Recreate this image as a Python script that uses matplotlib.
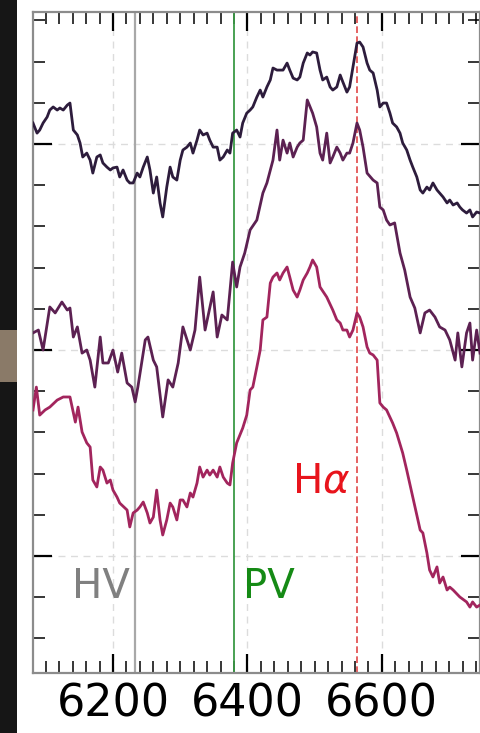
import numpy as np
import matplotlib.pyplot as plt
from matplotlib.ticker import MultipleLocator
from matplotlib.patches import Rectangle

# top spectrum (wavelength in A, offset flux)
wave_top = [6081, 6087, 6091, 6096, 6102, 6106, 6111, 6117, 6121, 6126, 6132, 6136,
            6141, 6147, 6151, 6155, 6161, 6166, 6170, 6176, 6181, 6185, 6191, 6196,
            6200, 6206, 6210, 6215, 6221, 6225, 6230, 6236, 6240, 6245, 6251, 6255,
            6260, 6265, 6270, 6274, 6280, 6285, 6289, 6295, 6300, 6304, 6310, 6315,
            6319, 6325, 6329, 6334, 6340, 6344, 6349, 6355, 6359, 6364, 6370, 6374,
            6378, 6384, 6389, 6393, 6399, 6404, 6408, 6414, 6419, 6423, 6429, 6434,
            6438, 6444, 6448, 6453, 6459, 6463, 6468, 6474, 6478, 6483, 6489, 6493,
            6497, 6503, 6508, 6512, 6518, 6523, 6527, 6533, 6538, 6542, 6548, 6552,
            6557, 6563, 6567, 6572, 6578, 6582, 6587, 6593, 6597, 6602, 6607, 6612,
            6616, 6622, 6627, 6631, 6637, 6642, 6646, 6652, 6657, 6661, 6667, 6671,
            6676, 6682, 6686, 6691, 6697, 6701, 6706, 6712, 6716, 6720, 6726, 6731,
            6735, 6741, 6746]
flux_top = [2.102, 2.053, 2.068, 2.102, 2.131, 2.165, 2.180, 2.165, 2.175, 2.165, 2.189, 2.199,
            2.068, 2.044, 2.005, 1.937, 1.956, 1.922, 1.859, 1.937, 1.947, 1.908, 1.888, 1.874,
            1.884, 1.888, 1.840, 1.874, 1.825, 1.811, 1.811, 1.859, 1.840, 1.888, 1.937, 1.874,
            1.762, 1.840, 1.714, 1.646, 1.791, 1.888, 1.840, 1.825, 1.922, 1.971, 1.985, 2.005,
            1.956, 2.019, 2.068, 2.044, 2.053, 2.019, 1.985, 1.985, 1.922, 1.937, 1.971, 1.956,
            2.053, 2.068, 2.034, 2.102, 2.150, 2.165, 2.180, 2.228, 2.262, 2.228, 2.277, 2.311,
            2.369, 2.359, 2.359, 2.359, 2.393, 2.359, 2.320, 2.311, 2.325, 2.393, 2.442, 2.432,
            2.447, 2.442, 2.359, 2.311, 2.325, 2.277, 2.262, 2.277, 2.335, 2.301, 2.252, 2.277,
            2.374, 2.490, 2.495, 2.471, 2.393, 2.359, 2.345, 2.262, 2.180, 2.199, 2.199, 2.150,
            2.102, 2.083, 2.053, 2.005, 1.971, 1.922, 1.888, 1.840, 1.777, 1.762, 1.791, 1.777,
            1.811, 1.777, 1.762, 1.743, 1.714, 1.728, 1.704, 1.714, 1.694, 1.680, 1.665, 1.680,
            1.646, 1.670, 1.665]

# middle spectrum
wave_mid = [6081, 6089, 6096, 6106, 6114, 6124, 6132, 6136, 6141, 6147, 6154, 6161,
            6166, 6173, 6181, 6185, 6193, 6200, 6207, 6213, 6221, 6228, 6233, 6237,
            6248, 6252, 6260, 6265, 6274, 6282, 6289, 6297, 6304, 6315, 6322, 6329,
            6337, 6349, 6355, 6362, 6370, 6378, 6384, 6389, 6396, 6404, 6414, 6423,
            6429, 6438, 6444, 6448, 6453, 6459, 6463, 6468, 6474, 6478, 6483, 6489,
            6497, 6503, 6508, 6512, 6518, 6523, 6527, 6533, 6538, 6542, 6548, 6552,
            6557, 6563, 6567, 6572, 6578, 6587, 6593, 6597, 6602, 6607, 6612, 6619,
            6627, 6634, 6642, 6649, 6657, 6664, 6671, 6679, 6686, 6694, 6701, 6709,
            6713, 6719, 6726, 6731, 6735, 6741, 6746]
flux_mid = [1.083, 1.097, 1.000, 1.209, 1.180, 1.233, 1.194, 1.204, 1.063, 1.112, 0.985, 1.000,
            0.951, 0.820, 1.063, 0.937, 0.937, 1.000, 0.893, 0.985, 0.840, 0.820, 0.748, 0.820,
            1.049, 1.063, 0.951, 0.918, 0.675, 0.855, 0.820, 0.937, 1.112, 1.000, 1.097, 1.354,
            1.097, 1.282, 1.063, 1.170, 1.146, 1.427, 1.306, 1.403, 1.471, 1.583, 1.631, 1.762,
            1.811, 1.922, 2.068, 1.922, 2.019, 1.956, 2.005, 1.937, 1.985, 2.005, 2.019, 2.214,
            2.150, 2.083, 1.956, 1.922, 2.053, 1.908, 1.937, 1.985, 1.956, 1.922, 1.956, 1.956,
            2.005, 2.102, 2.068, 1.985, 1.859, 1.825, 1.811, 1.694, 1.680, 1.631, 1.607, 1.617,
            1.471, 1.388, 1.257, 1.204, 1.083, 1.180, 1.194, 1.160, 1.112, 1.097, 1.049, 0.951,
            1.083, 0.918, 1.083, 1.131, 0.951, 1.097, 0.985]

# bottom spectrum
wave_bot = [6081, 6086, 6091, 6099, 6106, 6117, 6126, 6136, 6144, 6148, 6154, 6161,
            6166, 6170, 6176, 6181, 6185, 6191, 6196, 6200, 6206, 6210, 6221, 6225,
            6230, 6236, 6240, 6245, 6251, 6255, 6260, 6265, 6270, 6274, 6280, 6285,
            6289, 6295, 6300, 6304, 6310, 6315, 6319, 6325, 6329, 6334, 6340, 6344,
            6349, 6355, 6359, 6364, 6370, 6374, 6378, 6384, 6393, 6399, 6404, 6408,
            6414, 6419, 6423, 6429, 6434, 6438, 6444, 6448, 6453, 6459, 6463, 6468,
            6474, 6478, 6483, 6489, 6493, 6497, 6503, 6508, 6518, 6527, 6533, 6538,
            6542, 6548, 6552, 6557, 6563, 6567, 6572, 6578, 6582, 6587, 6593, 6597,
            6602, 6607, 6616, 6622, 6631, 6637, 6646, 6657, 6661, 6667, 6671, 6676,
            6682, 6686, 6691, 6697, 6701, 6706, 6716, 6726, 6731, 6735, 6741, 6746]
flux_bot = [0.709, 0.820, 0.684, 0.709, 0.723, 0.757, 0.772, 0.772, 0.650, 0.723, 0.602, 0.549,
            0.529, 0.369, 0.335, 0.432, 0.417, 0.354, 0.369, 0.320, 0.286, 0.257, 0.223, 0.141,
            0.209, 0.223, 0.238, 0.262, 0.209, 0.160, 0.189, 0.320, 0.175, 0.102, 0.175, 0.257,
            0.238, 0.175, 0.272, 0.272, 0.238, 0.306, 0.286, 0.354, 0.432, 0.383, 0.417, 0.393,
            0.417, 0.383, 0.432, 0.383, 0.354, 0.345, 0.451, 0.549, 0.621, 0.684, 0.806, 0.820,
            0.917, 1.000, 1.146, 1.160, 1.325, 1.354, 1.374, 1.340, 1.374, 1.403, 1.354, 1.291,
            1.257, 1.291, 1.340, 1.374, 1.403, 1.437, 1.403, 1.306, 1.257, 1.194, 1.146, 1.131,
            1.097, 1.097, 1.063, 1.097, 1.180, 1.160, 1.112, 1.015, 0.985, 0.976, 0.951, 0.743,
            0.723, 0.709, 0.646, 0.597, 0.500, 0.417, 0.286, 0.126, 0.112, 0.015, -0.068, -0.102,
            -0.053, -0.131, -0.102, -0.165, -0.151, -0.165, -0.199, -0.223, -0.248, -0.223, -0.248, -0.238]

# line markers
hv_wave = 6233
pv_wave = 6380
ha_wave = 6563

fig = plt.figure(figsize=(4.81, 7.33), dpi=100)
fig.patch.set_facecolor('white')
# dark screen strip on the left edge
fig.patches.append(Rectangle((0, 0), 17 / 481, 1, transform=fig.transFigure,
                             facecolor='#161616', edgecolor='none', zorder=0))
fig.patches.append(Rectangle((0, 0.479), 17 / 481, 0.071, transform=fig.transFigure,
                             facecolor='#8a7a68', edgecolor='none', zorder=1))

ax = fig.add_axes([33 / 481, 60 / 733, 447 / 481, 661 / 733])

ax.axvline(hv_wave, color='#a8a8a8', lw=1.6, zorder=2)
ax.axvline(pv_wave, color='#3a9a45', lw=1.3, zorder=2)
ax.axvline(ha_wave, color='#e04848', lw=1.2, ls=(0, (4, 2)), zorder=2)

ax.plot(wave_top, flux_top, color='#2d1c3c', lw=2.0, zorder=3)
ax.plot(wave_mid, flux_mid, color='#5c2152', lw=2.0, zorder=3)
ax.plot(wave_bot, flux_bot, color='#a2255d', lw=2.0, zorder=3)

ax.text(6139, -0.204, 'HV', color='#808080', fontsize=29)
ax.text(6393, -0.204, 'PV', color='#158a15', fontsize=29)
ax.text(6466, 0.306, r'H$\alpha$', color='#e8141c', fontsize=29)

ax.set_xlim(6081, 6746)
ax.set_ylim(-0.568, 2.641)
ax.xaxis.set_major_locator(MultipleLocator(200))
ax.xaxis.set_minor_locator(MultipleLocator(20))
ax.yaxis.set_major_locator(MultipleLocator(1))
ax.yaxis.set_minor_locator(MultipleLocator(0.2))
ax.grid(which='major', color='#dcdcdc', ls=(0, (5, 4)), lw=1.0, zorder=1)

ax.tick_params(which='both', direction='in', top=True, right=True, color='black')
ax.tick_params(which='major', length=14, width=1.6, labelsize=32, pad=7)
ax.tick_params(which='minor', length=8.5, width=1.1)
ax.tick_params(axis='y', labelleft=False)
for s in ax.spines.values():
    s.set_color('#8c8c8c')
    s.set_linewidth(1.6)

plt.savefig('out.png', dpi=100)
